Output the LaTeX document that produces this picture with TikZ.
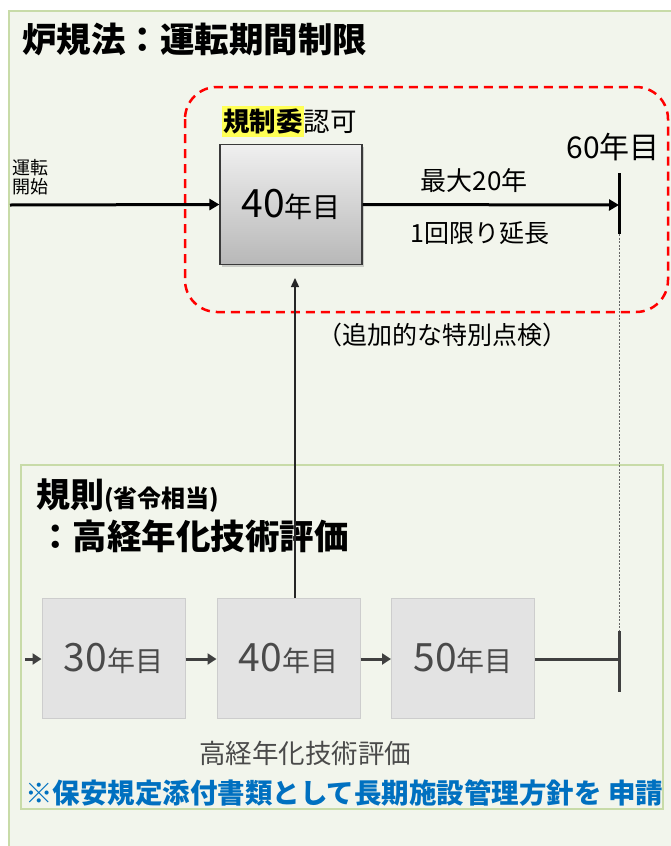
\documentclass[tikz,border=0pt]{standalone}
\usepackage{fontspec}
\setmainfont{Noto Sans CJK JP}
\usetikzlibrary{arrows.meta,shadows}
\definecolor{framefill}{HTML}{F2F5EC}
\definecolor{framedraw}{HTML}{C8DBA8}
\definecolor{boxdraw}{HTML}{3A3A3A}
\definecolor{lowfill}{HTML}{E3E3E3}
\definecolor{lowdraw}{HTML}{CDCDCD}
\definecolor{lowtext}{HTML}{4A4A4A}
\definecolor{darkline}{HTML}{404040}
\definecolor{bluetext}{HTML}{0070C0}
\definecolor{hl}{HTML}{FFFF55}
\newcommand{\fs}[1]{\fontsize{#1}{#1}\selectfont}
\tikzset{
  frame/.style={draw=framedraw,fill=framefill,line width=1.2pt},
  upbox/.style={draw=boxdraw,line width=1.2pt,top color=white!94!black,bottom color=white!72!black,
    minimum width=142pt,minimum height=120pt,inner sep=0pt,
    drop shadow={shadow xshift=1.5pt,shadow yshift=-2pt,opacity=0.35}},
  lowbox/.style={draw=lowdraw,fill=lowfill,line width=1pt,minimum width=143pt,minimum height=120pt,inner sep=0pt,text=lowtext},
  bigarrow/.style={draw=black,line width=3pt,-{Triangle[length=10pt,width=11pt]}},
  midarrow/.style={draw=darkline,line width=3pt,-{Triangle[length=9pt,width=11pt]}},
  thinarrow/.style={draw=black!85,line width=1.4pt,-{Triangle[length=9pt,width=8pt]}},
  endbar/.style={line width=3pt},
  lbl/.style={inner sep=0pt},
}
\begin{document}
\begin{tikzpicture}[x=1pt,y=-1pt]
\useasboundingbox (0,0) rectangle (671,846);
\fill[white] (0,0) rectangle (671,846);
\draw[frame] (9,11) rectangle (700,880);
% title
\node[lbl,anchor=west] (title) at (22,39) {\fs{34.5}\bfseries 炉規法：運転期間制限};
% red dashed region
\draw[red,line width=2.5pt,dash pattern=on 9pt off 6pt,rounded corners=32pt] (185,87) rectangle (668,312);
% upper part
\node[upbox] (b40) at (291,204.5) {\fs{39}40\fs{28}年目};
\node[lbl,anchor=south west] (ninka) at (222,137) {\fs{26.5}\bfseries\colorbox{hl}{\kern-2pt 規制委\kern-2pt}\mdseries 認可};
\node[lbl,align=left,anchor=west] (kaishi) at (12,177) {\fs{18}運転\\[2pt]\fs{18}開始};
\coordinate (start) at (10,205);
\coordinate (e60) at (619,205);
\coordinate (e60t) at (619,173);
\coordinate (e60b) at (619,234);
\draw[bigarrow] (start) -- (b40.west);
\draw[bigarrow] (b40.east) -- (e60);
\draw[endbar] (e60t) -- (e60b);
\node[lbl] (y60) at (613,147) {\fs{30}60年目};
\node[lbl] (max20) at (474,181) {\fs{26}最大20年};
\node[lbl] (once) at (480,233) {\fs{25}1回限り延長};
\node[lbl] (tokubetsu) at (442,335) {\fs{25}（追加的な特別点検）};
% lower frame
\draw[frame] (21,465) rectangle (663,809);
\node[lbl,anchor=west] (kisoku) at (36,496) {\fs{34}\bfseries 規則\fs{24}(省令相当)};
\node[lbl,anchor=west] (koukei) at (38,536) {\fs{34.5}\bfseries ：高経年化技術評価};
\node[lowbox] (l30) at (113.5,658) {\fs{39}30\fs{28}年目};
\node[lowbox] (l40) at (288.5,658) {\fs{39}40\fs{28}年目};
\node[lowbox] (l50) at (463,658) {\fs{39}50\fs{28}年目};
\coordinate (lstart) at (25,659);
\coordinate (lend) at (619,659);
\coordinate (lbart) at (619,631);
\coordinate (lbarb) at (619,692);
\coordinate (vtop) at (295,278);
\draw[midarrow] (lstart) -- (l30.west |- lstart);
\draw[midarrow] (l30.east |- lstart) -- (l40.west |- lstart);
\draw[midarrow] (l40.east |- lstart) -- (l50.west |- lstart);
\draw[draw=darkline,line width=3pt] (l50.east |- lstart) -- (lend);
\draw[draw=darkline,endbar] (lbart) -- (lbarb);
\draw[thinarrow] (l40.north -| vtop) -- (vtop);
\draw[draw=black!60,line width=0.8pt,dash pattern=on 2pt off 1.5pt] (e60b) -- (lbart);
\node[lbl,text=lowtext] (hyoka) at (305,753) {\fs{26.5}高経年化技術評価};
\node[lbl,anchor=west,text=bluetext] (note) at (25,793) {\fs{27.5}\bfseries ※保安規定添付書類として長期施設管理方針を 申請};
\end{tikzpicture}
\end{document}
